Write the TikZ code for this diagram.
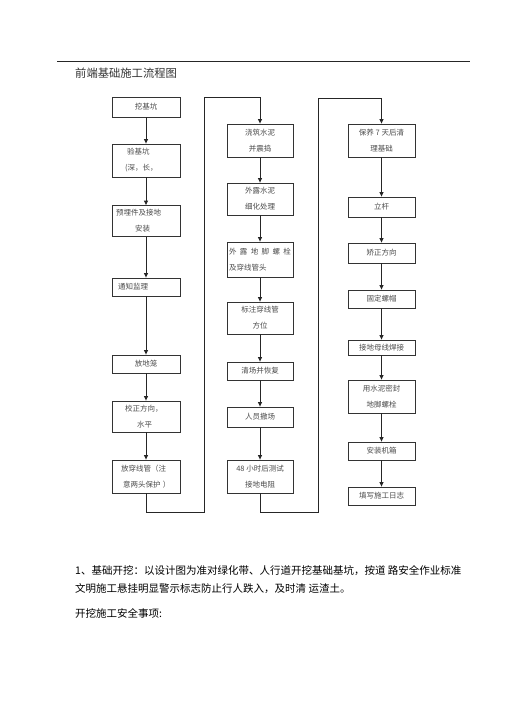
\documentclass[tikz,border=0pt]{standalone}
\usepackage{fontspec}
\setmainfont{Noto Sans CJK SC}
\usetikzlibrary{arrows.meta}
\tikzset{
  box/.style={draw=black!80, line width=0.8pt, inner sep=0pt, align=center,
    font=\fontsize{7.5}{16}\selectfont, text=black!70},
  conn/.style={draw=black!85, line width=0.9pt, -{Triangle[length=4.5pt,width=4pt]}},
  wire/.style={draw=black!85, line width=0.9pt},
  colA/.style={box, minimum width=68pt},
  colB/.style={box, minimum width=66pt},
  colC/.style={box, minimum width=67pt},
  body/.style={anchor=west, inner sep=0pt, font=\fontsize{10.5}{12}\selectfont, text=black},
}
\begin{document}
\begin{tikzpicture}[x=1pt,y=-1pt]
\fill[white] (0,0) rectangle (505,714);
\useasboundingbox (0,0) rectangle (505,714);

% header
\coordinate (r1) at (57,61);
\coordinate (r2) at (470,61);
\draw[wire] (r1) -- (r2);
\node[anchor=west, inner sep=0pt, font=\fontsize{11.3}{12}\selectfont, text=black!80] (title) at (75,73) {前端基础施工流程图};

% column 1
\node[colA, minimum height=20pt] (a1) at (146,107) {挖基坑};
\node[colA, minimum height=33pt, text width=42pt, align=left] (a2) at (146,160.5) {\hspace*{2pt}验基坑\\(深，长，};
\node[colA, minimum height=31pt, text width=60pt, align=left] (a3) at (146,221) {预埋件及接地\\\hspace*{19pt}安装};
\node[colA, minimum height=18pt, text width=56pt, align=left] (a4) at (146,287) {通知监理};
\node[colA, minimum height=18pt] (a5) at (146,364) {放地笼};
\node[colA, minimum height=31pt, text width=42pt, align=left] (a6) at (146,416.5) {校正方向，\\\hspace*{12pt}水平};
\node[colA, minimum height=33pt, text width=50pt, align=left] (a7) at (146,476.5) {放穿线管（注\\\hspace*{2pt}意两头保护 ）};

% column 2
\node[colB, minimum height=33pt] (b1) at (260,140.5) {浇筑水泥\\并震捣};
\node[colB, minimum height=32pt] (b2) at (260,199) {外露水泥\\细化处理};
\node[colB, minimum height=35pt, text width=62pt, align=left] (b3) at (260,259.5) {\makebox[62pt][s]{外\hfill 露\hfill 地\hfill 脚\hfill 螺\hfill 栓}\\及穿线管头};
\node[colB, minimum height=32pt] (b4) at (260,318) {标注穿线管\\方位};
\node[colB, minimum height=18pt] (b5) at (260,371) {清场并恢复};
\node[colB, minimum height=20pt] (b6) at (260,417) {人员撤场};
\node[colB, minimum height=33pt] (b7) at (260,476.5) {48 小时后测试\\接地电阻};

% column 3
\node[colC, minimum height=33pt] (c1) at (381.5,140.5) {保养 7 天后清\\理基础};
\node[colC, minimum height=20pt] (c2) at (381.5,207) {立杆};
\node[colC, minimum height=20pt] (c3) at (381.5,253) {矫正方向};
\node[colC, minimum height=18pt] (c4) at (381.5,299) {固定螺帽};
\node[colC, minimum height=15pt] (c5) at (381.5,347.5) {接地母线焊接};
\node[colC, minimum height=33pt] (c6) at (381.5,396.5) {用水泥密封\\地脚螺栓};
\node[colC, minimum height=18pt] (c7) at (381.5,451) {安装机箱};
\node[colC, minimum height=18pt] (c8) at (381.5,496) {填写施工日志};

% connectors column 1
\draw[conn] (a1) -- (a2);
\draw[conn] (a2) -- (a3);
\draw[conn] (a3) -- (a4);
\draw[conn] (a4) -- (a5);
\draw[conn] (a5) -- (a6);
\draw[conn] (a6) -- (a7);
% column 2
\draw[conn] (b1) -- (b2);
\draw[conn] (b2) -- (b3);
\draw[conn] (b3) -- (b4);
\draw[conn] (b4) -- (b5);
\draw[conn] (b5) -- (b6);
\draw[conn] (b6) -- (b7);
% column 3
\draw[conn] (c1) -- (c2);
\draw[conn] (c2) -- (c3);
\draw[conn] (c3) -- (c4);
\draw[conn] (c4) -- (c5);
\draw[conn] (c5) -- (c6);
\draw[conn] (c6) -- (c7);
\draw[conn] (c7) -- (c8);

% cross-column links
\coordinate (k2) at (204,512);
\coordinate (k3) at (204,97);
\draw[conn] (a7.south) |- (k2) -- (k3) -| (b1.north);
\coordinate (m2) at (318,512);
\coordinate (m3) at (318,98);
\draw[conn] (b7.south) |- (m2) -- (m3) -| (c1.north);

% body text
\node[body] (t1) at (75,571) {1、基础开挖：以设计图为准对绿化带、人行道开挖基础基坑，按道 路安全作业标准};
\node[body] (t2) at (75,589) {文明施工悬挂明显警示标志防止行人跌入，及时清 运渣土。};
\node[body] (t3) at (75,613) {开挖施工安全事项:};
\end{tikzpicture}
\end{document}
